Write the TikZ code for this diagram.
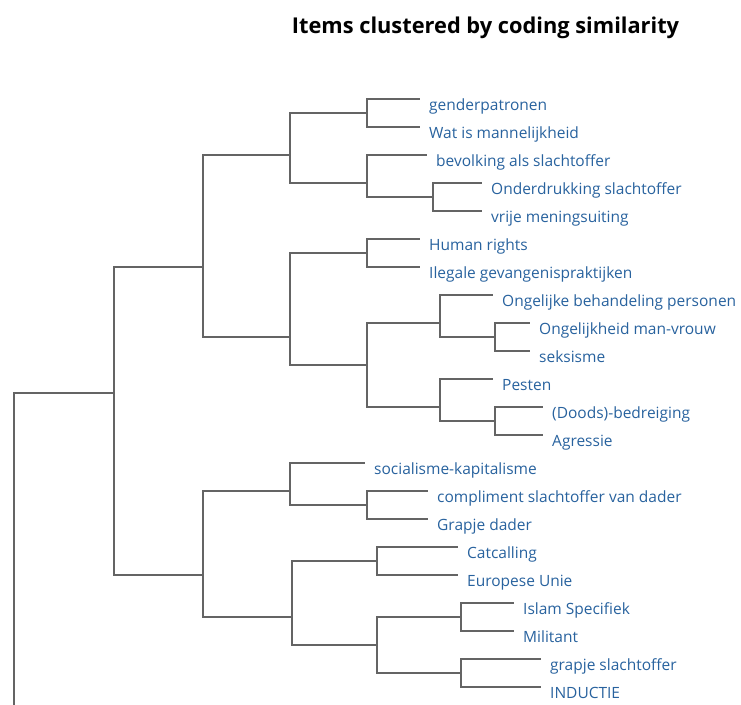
\documentclass[tikz,border=0pt]{standalone}
\usepackage{fontspec}
\setmainfont{Open Sans}
\definecolor{linegray}{RGB}{100,100,100}
\definecolor{leafblue}{RGB}{40,98,158}
\begin{document}
\begin{tikzpicture}[x=1pt,y=-1pt,
  link/.style={draw=linegray, line width=1.8pt},
  leaf/.style={anchor=base west, inner sep=0pt, text=leafblue, font=\fontsize{15.5}{17}\selectfont, xshift=9pt, yshift=-11pt},
  title/.style={anchor=base, inner sep=0pt, font=\fontsize{21.8}{24}\selectfont\bfseries}]
\useasboundingbox (0,0) rectangle (741,704);
\node[title] (ttl) at (485.5,33) {Items clustered by coding similarity};
% internal nodes
\coordinate (Rb) at (14,706);
\coordinate (A) at (114,393);
\coordinate (B) at (203,267);
\coordinate (C) at (203,575);
\coordinate (D) at (290,155);
\coordinate (E) at (290,337);
\coordinate (G1) at (367,113);
\coordinate (G2) at (367,183);
\coordinate (G3) at (433,197);
\coordinate (H1) at (367,253);
\coordinate (H2) at (367,365);
\coordinate (H3) at (440,323);
\coordinate (H4) at (440,407);
\coordinate (H5) at (495,337);
\coordinate (H6) at (495,421);
\coordinate (S1) at (290,491);
\coordinate (S2) at (292,617);
\coordinate (S3) at (367,505);
\coordinate (K1) at (377,561);
\coordinate (K2) at (377,645);
\coordinate (K3) at (461,617);
\coordinate (K4) at (461,673);
% leaf ends
\coordinate (L1) at (420,99);
\coordinate (L2) at (420,127);
\coordinate (L3) at (427,155);
\coordinate (L4) at (482,183);
\coordinate (L5) at (482,211);
\coordinate (L6) at (420,239);
\coordinate (L7) at (420,267);
\coordinate (L8) at (493,295);
\coordinate (L9) at (530,323);
\coordinate (L10) at (530,351);
\coordinate (L11) at (493,379);
\coordinate (L12) at (543,407);
\coordinate (L13) at (543,435);
\coordinate (L14) at (365,463);
\coordinate (L15) at (428,491);
\coordinate (L16) at (428,519);
\coordinate (L17) at (458,547);
\coordinate (L18) at (458,575);
\coordinate (L19) at (514,603);
\coordinate (L20) at (514,631);
\coordinate (L21) at (541,659);
\coordinate (L22) at (541,687);
% labels
\node[leaf] (t1) at (L1) {genderpatronen};
\node[leaf] (t2) at (L2) {Wat is mannelijkheid};
\node[leaf] (t3) at (L3) {bevolking als slachtoffer};
\node[leaf] (t4) at (L4) {Onderdrukking slachtoffer};
\node[leaf] (t5) at (L5) {vrije meningsuiting};
\node[leaf] (t6) at (L6) {Human rights};
\node[leaf] (t7) at (L7) {Ilegale gevangenispraktijken};
\node[leaf] (t8) at (L8) {Ongelijke behandeling personen};
\node[leaf] (t9) at (L9) {Ongelijkheid man-vrouw};
\node[leaf] (t10) at (L10) {seksisme};
\node[leaf] (t11) at (L11) {Pesten};
\node[leaf] (t12) at (L12) {(Doods)-bedreiging};
\node[leaf] (t13) at (L13) {Agressie};
\node[leaf] (t14) at (L14) {socialisme-kapitalisme};
\node[leaf] (t15) at (L15) {compliment slachtoffer van dader};
\node[leaf] (t16) at (L16) {Grapje dader};
\node[leaf] (t17) at (L17) {Catcalling};
\node[leaf] (t18) at (L18) {Europese Unie};
\node[leaf] (t19) at (L19) {Islam Specifiek};
\node[leaf] (t20) at (L20) {Militant};
\node[leaf] (t21) at (L21) {grapje slachtoffer};
\node[leaf] (t22) at (L22) {INDUCTIE};
% connectors
\draw[link] (Rb) |- (A);
\draw[link] (A) |- (B);
\draw[link] (A) |- (C);
\draw[link] (B) |- (D);
\draw[link] (B) |- (E);
\draw[link] (D) |- (G1);
\draw[link] (D) |- (G2);
\draw[link] (G1) |- (L1);
\draw[link] (G1) |- (L2);
\draw[link] (G2) |- (L3);
\draw[link] (G2) |- (G3);
\draw[link] (G3) |- (L4);
\draw[link] (G3) |- (L5);
\draw[link] (E) |- (H1);
\draw[link] (E) |- (H2);
\draw[link] (H1) |- (L6);
\draw[link] (H1) |- (L7);
\draw[link] (H2) |- (H3);
\draw[link] (H2) |- (H4);
\draw[link] (H3) |- (L8);
\draw[link] (H3) |- (H5);
\draw[link] (H5) |- (L9);
\draw[link] (H5) |- (L10);
\draw[link] (H4) |- (L11);
\draw[link] (H4) |- (H6);
\draw[link] (H6) |- (L12);
\draw[link] (H6) |- (L13);
\draw[link] (C) |- (S1);
\draw[link] (C) |- (S2);
\draw[link] (S1) |- (L14);
\draw[link] (S1) |- (S3);
\draw[link] (S3) |- (L15);
\draw[link] (S3) |- (L16);
\draw[link] (S2) |- (K1);
\draw[link] (S2) |- (K2);
\draw[link] (K1) |- (L17);
\draw[link] (K1) |- (L18);
\draw[link] (K2) |- (K3);
\draw[link] (K2) |- (K4);
\draw[link] (K3) |- (L19);
\draw[link] (K3) |- (L20);
\draw[link] (K4) |- (L21);
\draw[link] (K4) |- (L22);
\end{tikzpicture}
\end{document}
